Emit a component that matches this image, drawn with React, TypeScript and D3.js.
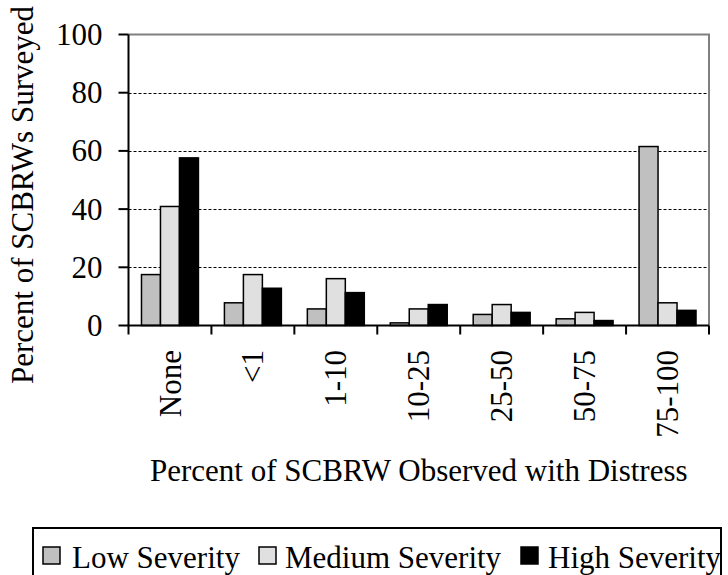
import React from "react";
import * as d3 from "d3";

const categories = ["None", "<1", "1-10", "10-25", "25-50", "50-75", "75-100"];
const seriesNames = ["Low Severity", "Medium Severity", "High Severity"];
const lowSeverity = [17.5, 7.8, 5.7, 0.9, 3.8, 2.3, 61.5];
const mediumSeverity = [40.9, 17.5, 16.1, 5.7, 7.2, 4.5, 7.8];
const highSeverity = [57.6, 12.8, 11.3, 7.2, 4.5, 1.7, 5.2];
const yTicks = [0, 20, 40, 60, 80, 100];
const colors = ["#C0C0C0", "#E0E0E0", "#000000"];

const W = 728;
const H = 575;
const FONT = "'Liberation Serif', 'Times New Roman', serif";
const FS = 31;

export default function App() {
  const left = 128.5;
  const right = 709;
  const top = 34.5;
  const bottom = 325.5;

  const x = d3.scaleBand<string>().domain(categories).range([left, right]).padding(0);
  const xs = d3
    .scaleBand<string>()
    .domain(seriesNames)
    .range([0, x.bandwidth()])
    .paddingInner(0)
    .paddingOuter(0.684);
  const y = d3.scaleLinear().domain([0, 100]).range([bottom, top]);

  const series = [lowSeverity, mediumSeverity, highSeverity];
  const boundaries = categories.map((c) => x(c) as number).concat([right]);

  return (
    <svg
      width={W}
      height={H}
      style={{ position: "absolute", left: 0, top: 0, background: "#fff" }}
      fontFamily={FONT}
    >
      {/* gridlines */}
      {yTicks
        .filter((t) => t > 0 && t < 100)
        .map((t) => (
          <line
            key={"g" + t}
            x1={left}
            x2={right}
            y1={Math.round(y(t)) + 0.5}
            y2={Math.round(y(t)) + 0.5}
            stroke="#000"
            strokeWidth={1}
            strokeDasharray="3,2"
          />
        ))}
      {/* plot frame top/right */}
      <polyline
        points={`${left},${top} ${right},${top} ${right},${bottom}`}
        fill="none"
        stroke="#808080"
        strokeWidth={2}
      />
      {/* bars */}
      {categories.map((c, i) =>
        series.map((s, j) => (
          <rect
            key={c + j}
            x={(x(c) as number) + (xs(seriesNames[j]) as number)}
            y={y(s[i])}
            width={xs.bandwidth()}
            height={bottom - y(s[i])}
            fill={colors[j]}
            stroke="#000"
            strokeWidth={1.5}
          />
        ))
      )}
      {/* y axis */}
      <line x1={left} x2={left} y1={top} y2={bottom} stroke="#000" strokeWidth={2} />
      {yTicks.map((t) => (
        <g key={"y" + t}>
          <line x1={left - 10} x2={left} y1={y(t)} y2={y(t)} stroke="#000" strokeWidth={2} />
          <text
            x={left - 26}
            y={y(t)}
            dy="0.34em"
            textAnchor="end"
            fontSize={FS}
            fill="#000"
          >
            {t}
          </text>
        </g>
      ))}
      {/* x axis */}
      <line x1={left - 1} x2={right} y1={bottom} y2={bottom} stroke="#000" strokeWidth={2} />
      {boundaries.map((b, i) => (
        <line key={"xt" + i} x1={b} x2={b} y1={bottom} y2={bottom + 9} stroke="#000" strokeWidth={2} />
      ))}
      {categories.map((c) => {
        const cx = (x(c) as number) + x.bandwidth() / 2;
        const ty = 350;
        return (
          <text
            key={"xl" + c}
            transform={`translate(${cx},${ty}) rotate(-90)`}
            textAnchor="end"
            dy="0.34em"
            fontSize={FS}
            fill="#000"
          >
            {c}
          </text>
        );
      })}
      {/* axis titles */}
      <text
        x={(left + right) / 2}
        y={481}
        textAnchor="middle"
        fontSize={FS}
        fill="#000"
      >
        Percent of SCBRW Observed with Distress
      </text>
      <text
        transform={`translate(33,195) rotate(-90)`}
        textAnchor="middle"
        fontSize={FS}
        fill="#000"
      >
        Percent of SCBRWs Surveyed
      </text>
      {/* legend */}
      <rect x={33} y={528} width={688} height={70} fill="none" stroke="#000" strokeWidth={2} />
      {seriesNames.map((n, j) => {
        const sx = [43, 259, 521][j];
        const tx = [72, 285, 548][j];
        return (
          <g key={"lg" + n}>
            <rect x={sx} y={547} width={17} height={17} fill={colors[j]} stroke="#000" strokeWidth={1.5} />
            <text x={tx} y={568} fontSize={FS} fill="#000">
              {n}
            </text>
          </g>
        );
      })}
    </svg>
  );
}
